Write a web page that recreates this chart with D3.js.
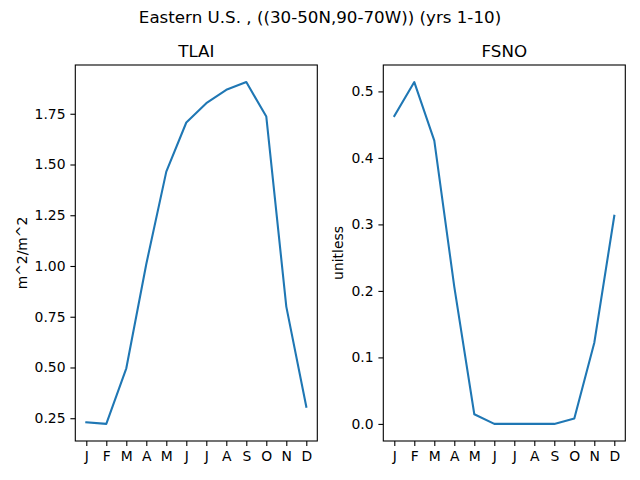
<!DOCTYPE html>
<html>
<head>
<meta charset="utf-8">
<script src="https://cdn.jsdelivr.net/npm/d3@7"></script>
<style>
  body { margin: 0; background: #fff; }
  svg { font-family: "DejaVu Sans", sans-serif; }
</style>
</head>
<body>
<div id="app"></div>
<script>
// monthly climatology, yrs 1-10
const months = ["J", "F", "M", "A", "M", "J", "J", "A", "S", "O", "N", "D"];
const tlai = [0.230, 0.222, 0.496, 1.01, 1.465, 1.707, 1.802, 1.868, 1.906, 1.736, 0.80, 0.307];
const fsno = [0.463, 0.514, 0.426, 0.206, 0.0145, 0, 0, 0, 0, 0.008, 0.122, 0.313];
const tlaiTicks = [0.25, 0.50, 0.75, 1.00, 1.25, 1.50, 1.75];
const fsnoTicks = [0.0, 0.1, 0.2, 0.3, 0.4, 0.5];

const width = 640;
const height = 480;

const svg = d3.select("#app")
    .append("svg")
    .attr("width", width)
    .attr("height", height);

svg.append("text")
    .attr("x", width / 2)
    .attr("y", 23)
    .attr("text-anchor", "middle")
    .attr("font-size", "16.7px")
    .text("Eastern U.S. , ((30-50N,90-70W)) (yrs 1-10)");

const panels = [
    { title: "TLAI", unit: "m^2/m^2", values: tlai, ticks: tlaiTicks, fmt: d3.format(".2f"), left: 75.3, right: 317.3, labelX: 27 },
    { title: "FSNO", unit: "unitless", values: fsno, ticks: fsnoTicks, fmt: d3.format(".1f"), left: 383.3, right: 625.3, labelX: 343 }
];

const axTop = 65;
const axBottom = 441;

panels.forEach(p => {
    const g = svg.append("g");

    // matplotlib-like 5% margins
    const xpad = 0.55;
    const x = d3.scaleLinear()
        .domain([-xpad, 11 + xpad])
        .range([p.left, p.right]);

    const ext = d3.extent(p.values);
    const m = (ext[1] - ext[0]) * 0.05;
    const y = d3.scaleLinear()
        .domain([ext[0] - m, ext[1] + m])
        .range([axBottom, axTop]);

    const xAxis = d3.axisBottom(x)
        .tickValues(d3.range(12))
        .tickFormat(i => months[i])
        .tickSize(4.9)
        .tickPadding(4.9);
    const gx = g.append("g")
        .attr("transform", "translate(0," + axBottom + ")")
        .call(xAxis);

    const yAxis = d3.axisLeft(y)
        .tickValues(p.ticks)
        .tickFormat(p.fmt)
        .tickSize(4.9)
        .tickPadding(4.9);
    const gy = g.append("g")
        .attr("transform", "translate(" + p.left + ",0)")
        .call(yAxis);

    [gx, gy].forEach(a => {
        a.select(".domain").remove();
        a.selectAll("text")
            .attr("font-size", "13.9px")
            .attr("font-family", "DejaVu Sans, sans-serif")
            .attr("fill", "#000");
        a.selectAll("line").attr("stroke", "#000").attr("stroke-width", 1.1);
    });

    const line = d3.line()
        .x((d, i) => x(i))
        .y(d => y(d));

    g.append("path")
        .datum(p.values)
        .attr("d", line)
        .attr("fill", "none")
        .attr("stroke", "#1f77b4")
        .attr("stroke-width", 2.08)
        .attr("stroke-linejoin", "round")
        .attr("stroke-linecap", "square");

    g.append("rect")
        .attr("x", p.left)
        .attr("y", axTop)
        .attr("width", p.right - p.left)
        .attr("height", axBottom - axTop)
        .attr("fill", "none")
        .attr("stroke", "#000")
        .attr("stroke-width", 1.1);

    g.append("text")
        .attr("x", (p.left + p.right) / 2)
        .attr("y", 57)
        .attr("text-anchor", "middle")
        .attr("font-size", "16.7px")
        .text(p.title);

    g.append("text")
        .attr("transform", "translate(" + p.labelX + "," + ((axTop + axBottom) / 2) + ") rotate(-90)")
        .attr("text-anchor", "middle")
        .attr("font-size", "13.9px")
        .text(p.unit);
});
</script>
</body>
</html>
